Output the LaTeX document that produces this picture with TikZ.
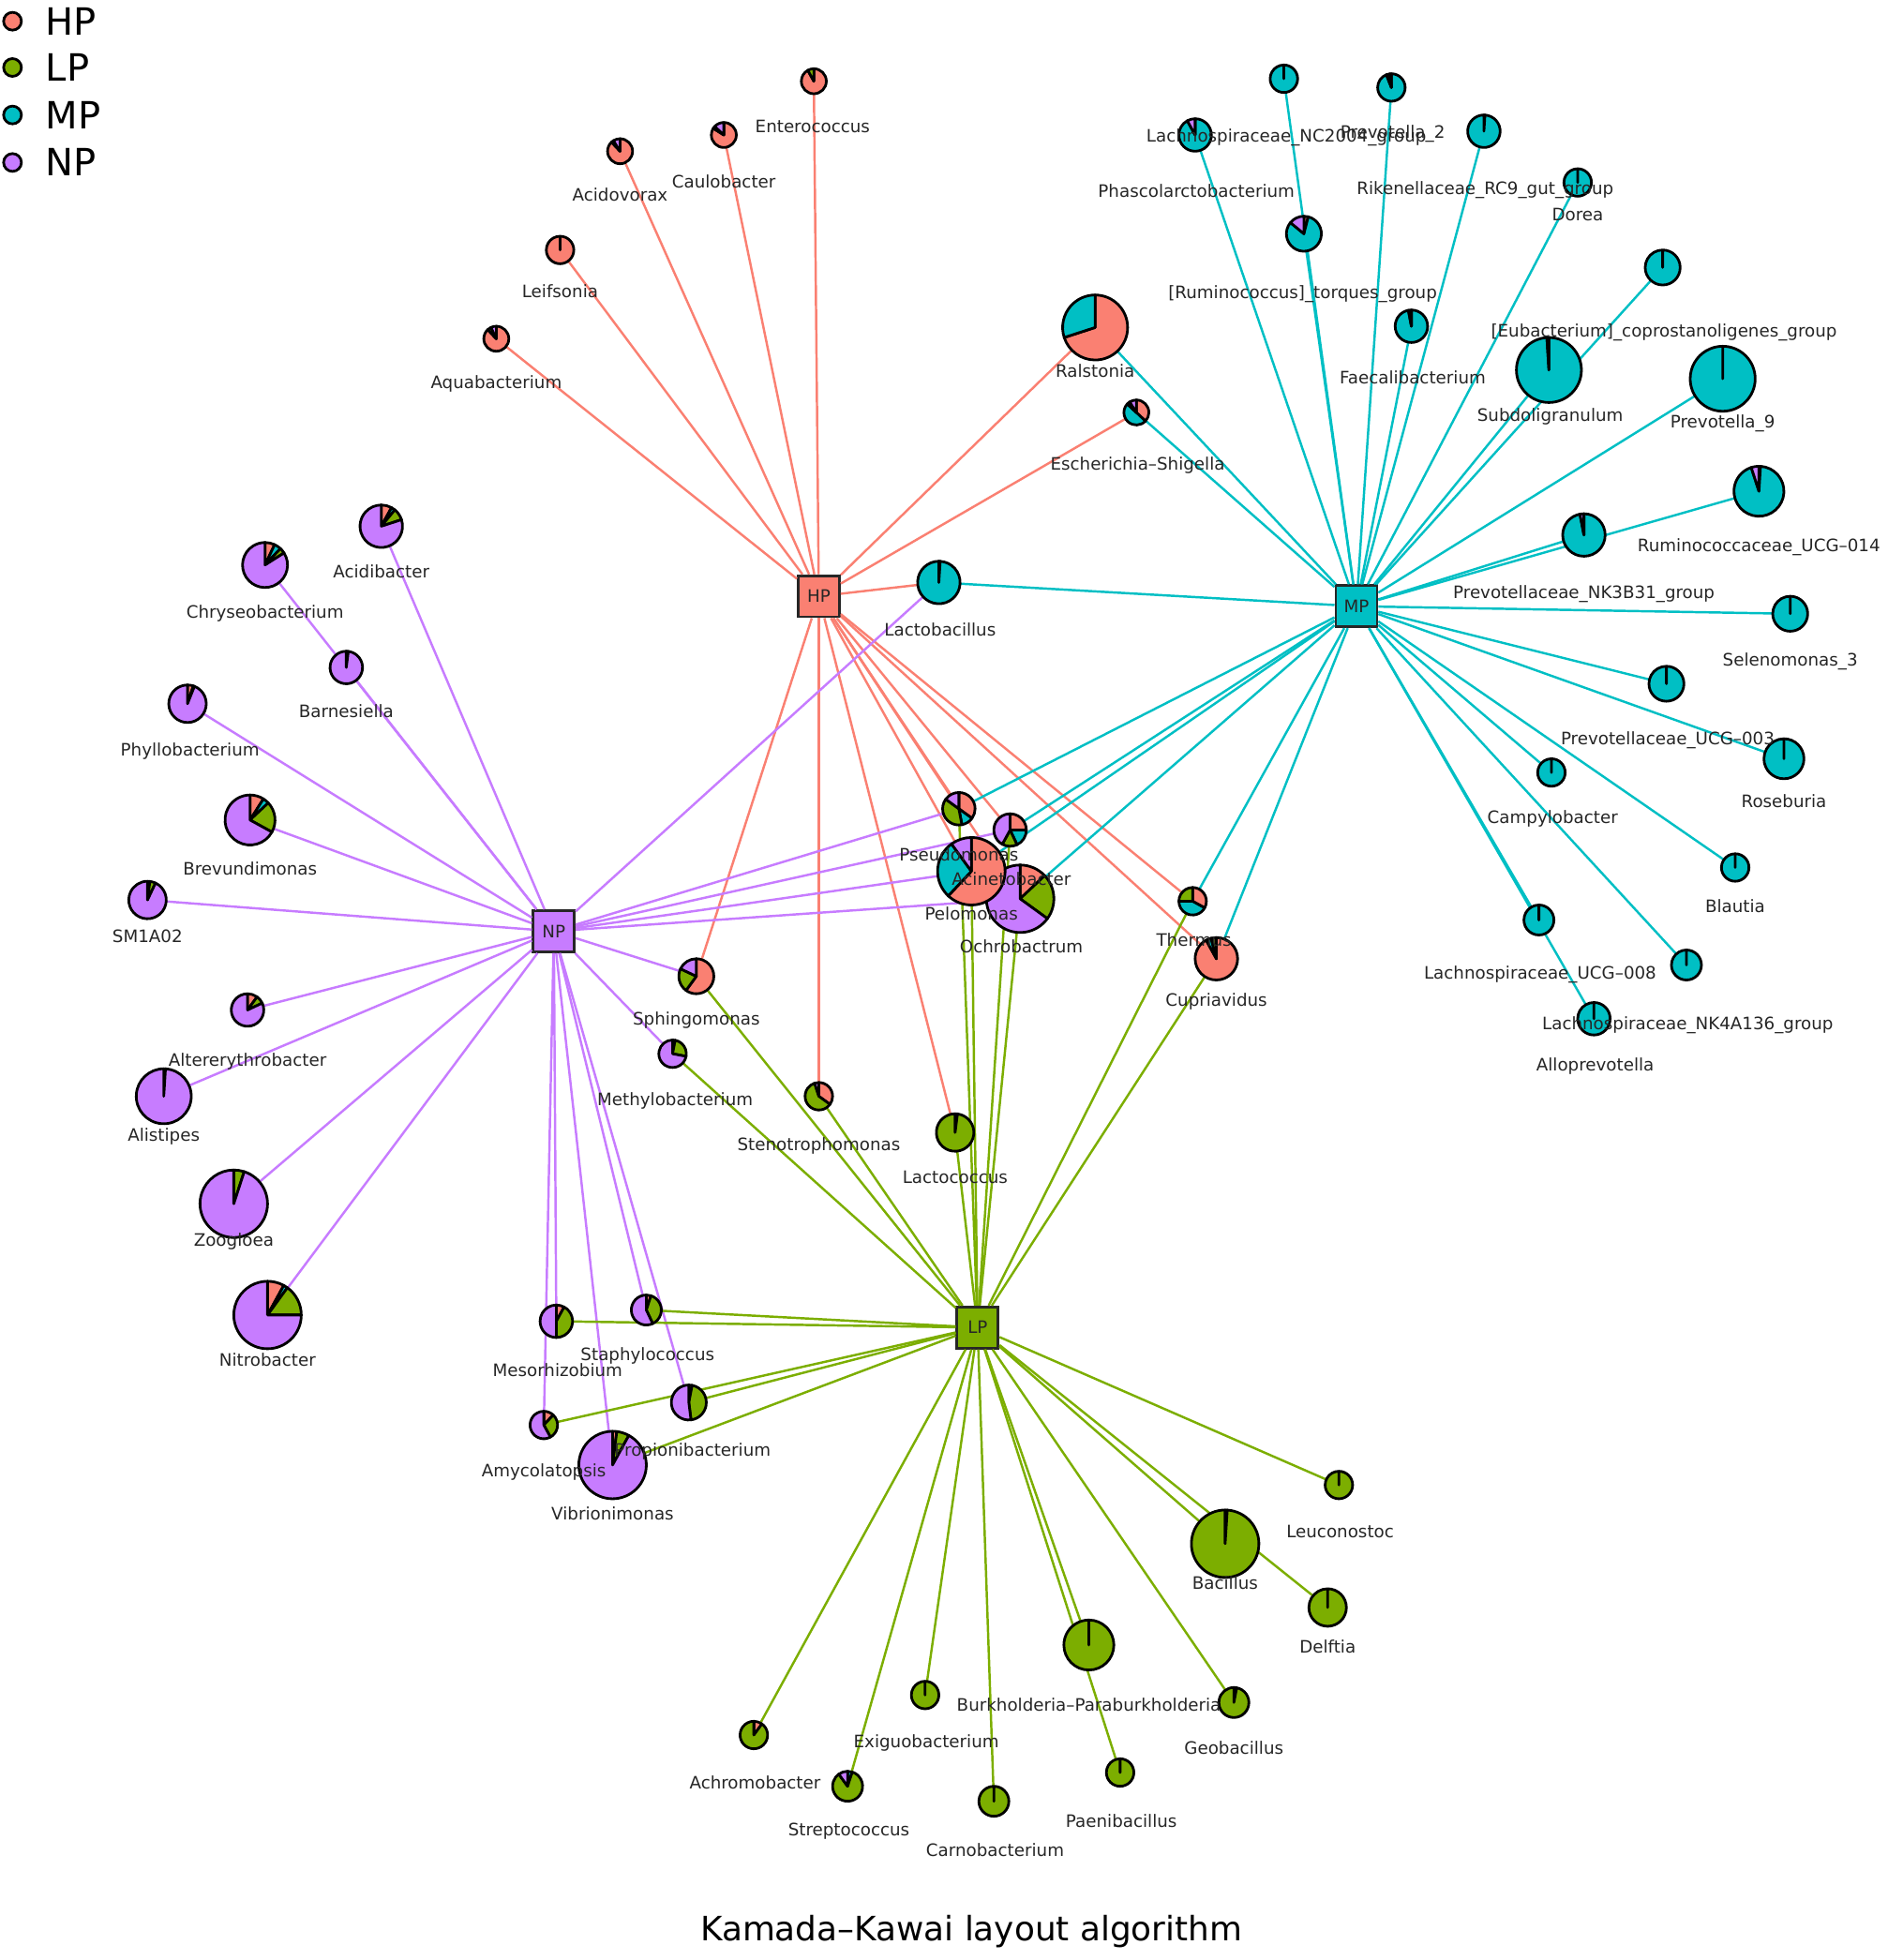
\documentclass[tikz,border=0pt]{standalone}
\usepackage{fontspec}
\setmainfont{DejaVu Sans}

\definecolor{hpc}{RGB}{250,128,114}
\definecolor{lpc}{RGB}{124,174,0}
\definecolor{mpc}{RGB}{0,191,196}
\definecolor{npc}{RGB}{199,124,255}

\newcommand{\lblfont}{\fontsize{5.2}{6.2}\selectfont}

\tikzset{
	hub/.style={rectangle, draw=black!85, line width=0.8pt, minimum size=4.4mm, inner sep=0pt, font=\lblfont, text=black!85},
	pieline/.style={draw=black, line width=0.8pt, line join=round},
	lab/.style={font=\lblfont, text=black!85, inner sep=0pt},
	hpedge/.style={draw=hpc, line width=0.7pt},
	lpedge/.style={draw=lpc, line width=0.7pt},
	mpedge/.style={draw=mpc, line width=0.7pt},
	npedge/.style={draw=npc, line width=0.7pt},
	legdot/.style={circle, draw=black, line width=0.8pt, minimum size=1.9mm, inner sep=0pt},
}

% pie at a named point: name, radius, HP, MP, LP, NP (percent, clockwise from top)
\newcommand{\taxpie}[6]{%
	\gdef\pieang{90}%
	\foreach \val/\col in {#3/hpc,#4/mpc,#5/lpc,#6/npc}{%
		\ifdim\val pt>0pt
			\pgfmathsetmacro{\pieend}{\pieang-3.6*\val}%
			\filldraw[fill=\col, pieline] (#1) -- ++(\pieang:#2) arc[start angle=\pieang, end angle=\pieend, radius=#2] -- cycle;
			\global\let\pieang\pieend
		\fi
	}%
}

% name/x/y/radius/HP/MP/LP/NP/label x/label y/label
\def\taxa{%
ent/651/65/10/92/0/8/0/650/101/Enterococcus,
cau/579/108/10/84/0/3/13/579/145/Caulobacter,
acv/496/121/10/88/0/3/9/496/156/Acidovorax,
lei/448/200/11/100/0/0/0/448/233/Leifsonia,
aqu/397/271/10/88/0/5/7/397/307/Aquabacterium,
ral/876/262/26/70/30/0/0/876/297/Ralstonia,
esc/909/330/10/37/50/4/9/910/372/Escherichia–Shigella,
lab/751/466/17/1/99/0/0/752/504/Lactobacillus,
nc/1027/63/11/0/100/0/0/1029/110/Lachnospiraceae\_NC2004\_group,
pr2/1113/70/11/0/94/4/2/1114/107/Prevotella\_2,
rik/1187/105/13/1/99/0/0/1188/152/Rikenellaceae\_RC9\_gut\_group,
dor/1262/146/11/0/100/0/0/1262/172/Dorea,
pha/956/108/13/0/92/0/8/957/153/Phascolarctobacterium,
rum/1043/187/14/4/82/0/14/1042/235/{[Ruminococcus]\_torques\_group},
fae/1129/261/13/0/97/0/3/1130/302/Faecalibacterium,
eub/1330/214/14/0/100/0/0/1331/266/{[Eubacterium]\_coprostanoligenes\_group},
sub/1239/296/26/0/99/0/1/1240/333/Subdoligranulum,
pr9/1378/303/26/0/100/0/0/1378/339/Prevotella\_9,
r14/1407/393/20/1/94/0/5/1407/438/Ruminococcaceae\_UCG–014,
nk3/1267/428/17/0/97/0/3/1267/475/Prevotellaceae\_NK3B31\_group,
sel/1432/491/14/0/100/0/0/1432/529/Selenomonas\_3,
u03/1333/547/14/0/100/0/0/1334/592/Prevotellaceae\_UCG–003,
ros/1427/607/16/0/100/0/0/1427/641/Roseburia,
cam/1241/618/11/0/100/0/0/1242/655/Campylobacter,
bla/1388/694/11/0/100/0/0/1388/725/Blautia,
u08/1231/736/12/0/100/0/0/1232/780/Lachnospiraceae\_UCG–008,
nk4/1349/772/12/0/100/0/0/1350/820/Lachnospiraceae\_NK4A136\_group,
all/1275/815/13/0/100/0/0/1276/853/Alloprevotella,
acb/305/421/17/8/3/9/80/305/457/Acidibacter,
chr/212/452/18/7/5/4/84/212/491/Chryseobacterium,
bar/277/534/13/0/0/2/98/277/569/Barnesiella,
phy/150/563/15/5/0/1/94/152/601/Phyllobacterium,
bre/200/656/20/9/4/20/67/200/695/Brevundimonas,
sm1/118/720/15/2/0/5/93/118/749/SM1A02,
alt/198/808/13/10/0/8/82/198/849/Altererythrobacter,
ali/131/877/22/0/0/1/99/131/909/Alistipes,
zoo/187/963/27/0/0/5/95/187/993/Zoogloea,
nit/214/1052/27/8/2/15/75/214/1088/Nitrobacter,
mes/445/1057/13/8/0/42/50/446/1096/Mesorhizobium,
sta/517/1048/12/5/0/38/57/518/1085/Staphylococcus,
amy/435/1140/11/12/0/30/58/435/1178/Amycolatopsis,
pro/551/1122/14/3/0/45/52/554/1161/Propionibacterium,
vib/490/1172/27/2/0/6/92/490/1211/Vibrionimonas,
sph/557/781/14/60/0/22/18/557/816/Sphingomonas,
met/538/843/11/3/0/25/72/540/881/Methylobacterium,
ste/655/877/11/35/0/60/5/655/917/Stenotrophomonas,
lac/764/906/15/2/0/98/0/764/942/Lactococcus,
och/816/719/27/13/0/22/65/817/757/Ochrobactrum,
pel/777/697/27/62/28/0/10/777/731/Pelomonas,
pse/767/647/13/35/12/38/15/767/684/Pseudomonas,
aci/808/664/13/25/18/15/42/809/703/Acinetobacter,
the/954/721/11/33/42/25/0/955/752/Thermus,
cup/973/767/17/92/4/4/0/973/801/Cupriavidus,
leu/1071/1188/11/0/0/100/0/1072/1225/Leuconostoc,
bac/980/1235/27/1/0/99/0/980/1266/Bacillus,
del/1062/1286/15/0/0/100/0/1062/1317/Delftia,
bur/871/1316/20/0/0/100/0/871/1364/Burkholderia–Paraburkholderia,
geo/987/1362/12/3/0/97/0/987/1398/Geobacillus,
pae/896/1418/11/0/0/100/0/897/1457/Paenibacillus,
car/795/1441/12/0/0/100/0/796/1480/Carnobacterium,
exi/740/1356/11/0/0/100/0/741/1394/Exiguobacterium,
str/678/1429/12/0/5/85/10/679/1465/Streptococcus,
ach/603/1388/11/10/0/90/0/604/1426/Achromobacter}

\begin{document}
\begin{tikzpicture}[x=0.1334mm, y=0.1334mm]
	\useasboundingbox (0,0) rectangle (1510,-1568);

	% Group hubs
	\node[hub, fill=hpc] (hp) at (655,-477) {HP};
	\node[hub, fill=mpc] (mp) at (1085,-485) {MP};
	\node[hub, fill=npc] (np) at (443,-745) {NP};
	\node[hub, fill=lpc] (lp) at (782,-1062) {LP};

	% Taxon centres
	\foreach \n/\x/\y/\r/\pa/\pb/\pc/\pd/\lx/\ly/\txt in \taxa {
			\coordinate (\n) at (\x,-\y);
		}

	% Edges, one colour per group
	\foreach \t in {ent,cau,acv,lei,aqu,ral,esc,lab,pse,aci,pel,och,the,cup,sph,ste,lac}
		\draw[hpedge] (hp) -- (\t);
	\foreach \t in {nc,pr2,rik,dor,pha,rum,fae,eub,sub,pr9,r14,nk3,sel,u03,ros,cam,bla,u08,nk4,all,ral,esc,lab,pse,aci,pel,och,the,cup}
		\draw[mpedge] (mp) -- (\t);
	\foreach \t in {acb,chr,bar,phy,bre,sm1,alt,ali,zoo,nit,mes,sta,amy,pro,vib,sph,met,lab,pse,aci,pel,och}
		\draw[npedge] (np) -- (\t);
	\foreach \t in {mes,sta,amy,pro,vib,sph,met,ste,lac,pse,aci,pel,och,the,cup,leu,bac,del,bur,geo,pae,car,exi,str,ach}
		\draw[lpedge] (lp) -- (\t);

	% Pies
	\foreach \n/\x/\y/\r/\pa/\pb/\pc/\pd/\lx/\ly/\txt in \taxa {
			\taxpie{\n}{\r}{\pa}{\pb}{\pc}{\pd}
		}

	% Labels on top
	\foreach \n/\x/\y/\r/\pa/\pb/\pc/\pd/\lx/\ly/\txt in \taxa {
			\node[lab] (\n-l) at (\lx,-\ly) {\txt};
		}

	% Legend
	\foreach \g/\col/\y in {HP/hpc/17, LP/lpc/54, MP/mpc/92, NP/npc/130} {
			\node[legdot, fill=\col] (leg\g) at (10,-\y) {};
			\node[anchor=west, inner sep=0pt, font=\fontsize{11.4}{13}\selectfont] (leg\g-t) at (36,-\y) {\g};
		}

	% Title
	\node[font=\fontsize{10.2}{12}\selectfont] (title) at (777,-1545) {Kamada–Kawai layout algorithm};
\end{tikzpicture}
\end{document}
